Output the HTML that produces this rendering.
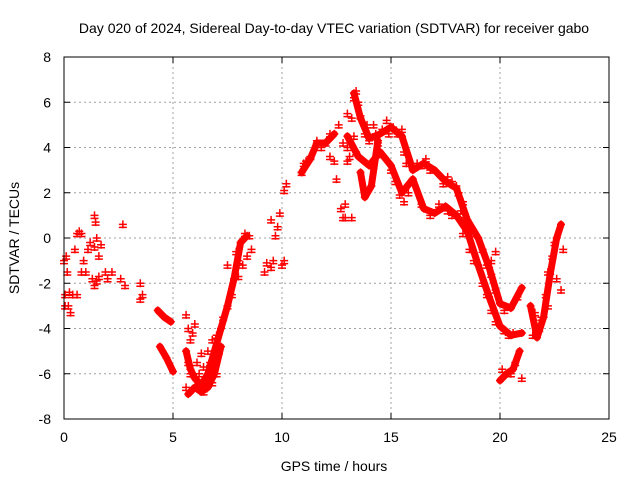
<!DOCTYPE html>
<html><head><meta charset="utf-8"><style>
html,body{margin:0;padding:0;background:#fff}
svg{display:block;font-family:"Liberation Sans",sans-serif}
</style></head><body>
<svg id="chart" width="640" height="480">
<text x="334" y="33" text-anchor="middle" font-size="14">Day 020 of 2024, Sidereal Day-to-day VTEC variation (SDTVAR) for receiver gabo</text>
<text x="334" y="471" text-anchor="middle" font-size="14">GPS time / hours</text>
<text transform="translate(19,238) rotate(-90)" text-anchor="middle" font-size="14">SDTVAR / TECUs</text>
<g id="grid"></g><g id="marks"></g>
<rect x="64" y="57" width="545" height="362" fill="none" stroke="#000"/>
</svg>
<script>
const xTicks=[0,5,10,15,20,25];
const yTicks=[-8,-6,-4,-2,0,2,4,6,8];
const bandXs=[
[13.3,13.6,14,14.5,15,15.5,16,16.5,17,17.5,18,18.5,19,19.5,20,20.5,21],
[13,13.5,14,14.5,15,15.5,16,16.5,17,17.5,18,18.5,19,19.5,20,20.5,21],
[13.6,13.8,14.1,14.4],
[5.6,5.8,6,6.3,6.6,6.9,7.2,7.5,7.8,8.1,8.4],
[5.7,6,6.3,6.6,6.9,7.2],
[20,20.3,20.6,20.9],
[21.4,21.7,22,22.3,22.6,22.8],
[4.4,4.7,5.0],[4.3,4.6,4.9],
[10.9,11.3,11.6,12,12.4]];
const bandYs=[
[6.4,5.3,4.4,4.6,4.9,4.5,3.0,3.3,3.0,2.5,2.2,0.8,0,-1.3,-2.9,-3.1,-2.2],
[4.5,3.6,3.2,3.8,3.2,2.0,2.6,1.3,1.1,1.4,1.0,0.3,-1.2,-2.6,-3.9,-4.3,-4.2],
[2.9,1.8,2.3,4.3],
[-5,-5.8,-6.2,-6.5,-6,-5,-4,-3,-1.8,-0.2,0.1],
[-6.9,-6.6,-6.8,-6.6,-6.0,-4.8],
[-6.3,-6,-5.8,-5],
[-3,-4.4,-3.5,-1.6,0,0.6],
[-4.8,-5.3,-5.9],[-3.2,-3.5,-3.7],
[2.9,3.5,4.2,4.2,4.6]];
const ptX=[0,0.05,0.1,0.15,0.2,0.3,0.25,0.05,0.6,0.7,0.8,0.5,0.9,0.8,0.6,0.4,1.0,1.1,1.2,1.4,1.5,1.3,1.4,1.6,1.9,2.0,2.2,2.6,2.7,2.8,3.5,3.6,3.5,1.4,1.45,1.5,1.7,1.6,
5.6,5.7,5.8,5.9,6.0,5.6,5.7,5.8,6.1,6.2,6.4,6.5,6.7,6.3,6.4,6.6,6.8,7.0,6.8,7.0,7.1,7.3,7.5,7.7,8.0,8.3,8.5,8.6,8.4,8.2,8.0,7.9,7.5,
9.2,9.3,9.5,9.6,9.7,9.8,9.9,9.5,10.0,10.1,10.1,10.2,10.9,11.0,11.1,11.3,11.6,11.8,12.0,12.2,12.2,12.4,12.6,12.8,12.5,12.7,12.8,12.9,
13.0,13.2,13.3,13.4,13.5,13.6,13.8,13.3,13.0,13.1,13.4,14.2,14.4,14.6,14.8,14.2,14.0,14.9,15.1,15.3,15.5,15.6,15.0,15.2,15.4,15.6,15.8,16.2,16.4,16.6,16.8,16.4,16.8,17.2,17.4,17.6,17.8,18.0,17.6,17.8,18.2,18.4,18.1,18.3,18.6,18.8,19.2,19.4,19.6,19.8,20.2,20.8,19.6,19.8,18.3,18.6,18.8,19.2,19.4,19.6,19.8,20.2,20.4,20.6,20.1,20.5,20.7,21.0,15.7,14.5,13.0,13.2,12.9,13.9,14.3,
21.5,21.6,21.8,21.9,22.1,22.2,22.4,22.5,22.9,22.8,22.6,22.2];
const ptY=[-1,-2.5,-0.8,-1.5,-3,-3.3,-2.4,-3,0.2,0.3,0.2,-0.5,-1,-1.5,-2.5,-2.5,-1.5,-0.5,-0.2,-0.4,-1.9,-1.8,-2.1,-1.7,-1.5,-1.8,-1.5,-1.8,0.6,-2.1,-2.0,-2.5,-2.7,1.0,0.7,0.0,-0.3,-0.8,
-3.4,-4,-4.5,-4.2,-3.8,-6.6,-5.5,-6,-5.5,-6,-6.8,-6.5,-5.5,-5.1,-5.7,-5.0,-4.5,-4.3,-6.4,-6,-5,-3.5,-3,-2.5,-1,0.2,0.1,-0.5,-0.8,-1.2,-1.7,-0.6,-1.2,
-1.5,-1.1,-1.3,-1.0,0.1,0.5,1.1,0.8,-1.2,-1.0,2.1,2.4,2.9,3.3,3.4,3.6,4.3,4.0,4.2,4.6,3.6,3.4,5.0,4.2,2.6,1.3,0.9,1.5,
5.5,5.3,6.2,6.5,6.0,5.4,4.6,4.5,4.0,3.6,3.8,3.2,4.2,4.8,5.2,5.0,4.3,4.6,4.9,4.6,4.8,3.8,3.0,2.5,1.9,1.6,2.0,3.3,3.2,3.5,3.0,1.5,1.0,1.5,2.4,2.7,2.5,2.3,1.2,1.0,1.2,0.9,2.0,1.6,0.6,0.2,-0.5,-1.2,-1.6,-2.3,-3.2,-2.6,-1.0,-0.6,0.2,-0.5,-1.0,-2.0,-2.5,-3.2,-3.7,-4.1,-4.3,-4.2,-5.8,-6.0,-5.5,-6.2,3.3,3.7,3.4,0.9,0.9,5.0,4.6,
-4.3,-3.3,-4,-3.5,-2.5,-1.5,-0.8,-0.2,-0.5,-2.3,-1.8,-3];
const L=64,R=609,T=57,B=419;
const sx=v=>L+(v-0)/(25-0)*(R-L);
const sy=v=>B-(v+8)/16*(B-T);
const NS="http://www.w3.org/2000/svg";
const grid=document.getElementById('grid'),marks=document.getElementById('marks');
function mk(tag,attrs,parent){const e=document.createElementNS(NS,tag);for(const k in attrs)e.setAttribute(k,attrs[k]);parent.appendChild(e);return e;}
xTicks.forEach(t=>{const x=sx(t);
 const g=mk('line',{x1:x,x2:x,y1:T,y2:B,stroke:'#a0a0a0','stroke-dasharray':'2,3'},grid);
 
 
 mk('line',{x1:x,x2:x,y1:B,y2:B-6,stroke:'#000'},grid);mk('line',{x1:x,x2:x,y1:T,y2:T+6,stroke:'#000'},grid);
 const tx=mk('text',{x:x,y:B+23,'text-anchor':'middle','font-size':14},grid);tx.textContent=t;
 
 });
yTicks.forEach(t=>{const y=sy(t);
 const g=mk('line',{x1:L,x2:R,y1:y,y2:y,stroke:'#a0a0a0','stroke-dasharray':'2,3'},grid);
 
 
 mk('line',{x1:L,x2:L+6,y1:y,y2:y,stroke:'#000'},grid);mk('line',{x1:R,x2:R-6,y1:y,y2:y,stroke:'#000'},grid);
 const tx=mk('text',{x:L-13,y:y+5,'text-anchor':'end','font-size':14},grid);tx.textContent=t;
 
 });
bandXs.forEach((xs,i)=>{const ys=bandYs[i];
 const p=mk('polyline',{points:xs.map((x,j)=>sx(x)+','+sy(ys[j])).join(' '),fill:'none',stroke:'#ff0000','stroke-width':7,'stroke-linejoin':'round','stroke-linecap':'round'},marks);
 
 
 xs.forEach((x,j)=>{const c=mk('path',{d:`M${sx(x)-4},${sy(ys[j])}h8M${sx(x)},${sy(ys[j])-4}v8`,stroke:'#ff0000','stroke-width':1.5},marks);
 
 });});
ptX.forEach((x,i)=>{const X=sx(x),Y=sy(ptY[i]);
 const c=mk('path',{d:`M${X-4},${Y}h8M${X},${Y-4}v8M${X-4},${Y+3}h8`,stroke:'#ff0000','stroke-width':1.5},marks);
 
 });
</script>
</body></html>
